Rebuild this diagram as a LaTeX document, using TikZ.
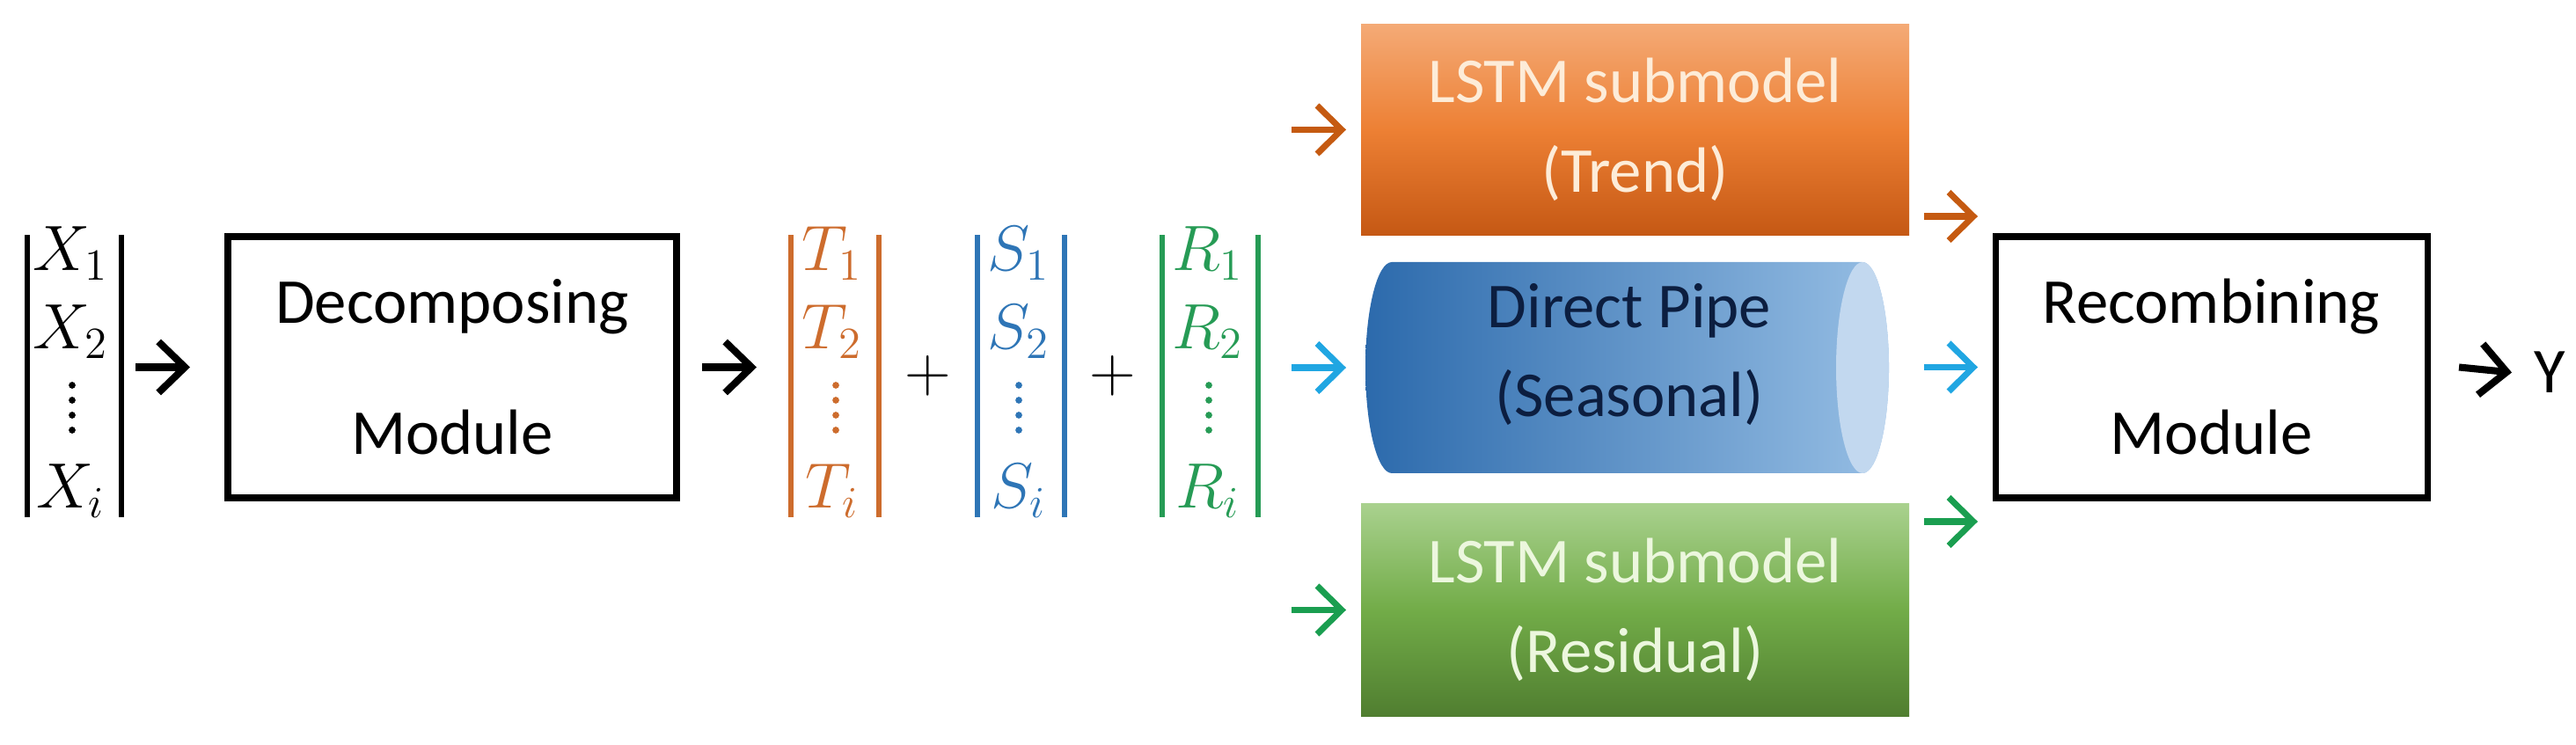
\documentclass[tikz,border=0pt]{standalone}
\usepackage{fontspec}
\setmainfont{Carlito}
\usetikzlibrary{arrows.meta}

\definecolor{tcol}{RGB}{205,108,45}
\definecolor{scol}{RGB}{46,117,182}
\definecolor{rcol}{RGB}{38,155,85}
\definecolor{tarrow}{RGB}{197,90,17}
\definecolor{sarrow}{RGB}{32,166,226}
\definecolor{rarrow}{RGB}{26,158,80}
\definecolor{trendtop}{RGB}{244,170,118}
\definecolor{trendmid}{RGB}{237,128,52}
\definecolor{trendbot}{RGB}{197,88,20}
\definecolor{residtop}{RGB}{169,209,142}
\definecolor{residmid}{RGB}{114,172,72}
\definecolor{residbot}{RGB}{80,126,48}
\definecolor{pipedark}{RGB}{44,106,172}
\definecolor{pipelight}{RGB}{150,190,228}
\definecolor{pipeface}{RGB}{194,216,239}
\definecolor{trendtext}{RGB}{253,236,216}
\definecolor{residtext}{RGB}{236,247,222}
\definecolor{pipetext}{RGB}{12,30,64}

\begin{document}
\begin{tikzpicture}[
	modbox/.style = {draw, line width = 2pt, outer sep = 0pt, minimum height = 2.97cm, align = center, font = \fontsize{20.7}{42.4}\selectfont},
	subbox/.style = {outer sep = 0pt, minimum width = 6.23cm, minimum height = 2.4cm, align = center, font = \fontsize{20.7}{29}\selectfont},
	entry/.style = {anchor = base, inner sep = 0pt, font = \fontsize{21}{25}\selectfont},
	vecbox/.style = {minimum height = 3.19cm, inner sep = 0pt},
	bar/.style = {line width = 1.8pt},
	arr/.style = {line width = 2.3pt, -{Straight Barb[length = 3mm, width = 5.8mm]}},
	carr/.style = {line width = 2pt, -{Straight Barb[length = 2.8mm, width = 5.5mm]}}
	]
	\useasboundingbox (0,0) rectangle (29.28,8.46);

	\node[vecbox, minimum width = 1.05cm] (xvec) at (0.845,4.185) {};
	\draw[bar] (xvec.north west) -- (xvec.south west);
	\draw[bar] (xvec.north east) -- (xvec.south east);
	\node[entry] (x1) at (0.80,5.38) {$X_1$};
	\node[entry] (x2) at (0.80,4.49) {$X_2$};
	\foreach \y in {4.08,3.91,3.74,3.57} \fill (0.82,\y) circle(1.1pt);
	\node[entry] (xi) at (0.80,2.68) {$X_i$};

	\node[modbox, minimum width = 5.10cm] (dec) at (5.14,4.285) {Decomposing\\Module};

	\node[vecbox, minimum width = 0.98cm] (tvec) at (9.49,4.185) {};
	\draw[bar, tcol] (tvec.north west) -- (tvec.south west);
	\draw[bar, tcol] (tvec.north east) -- (tvec.south east);
	\node[entry, tcol] (t1) at (9.46,5.38) {$T_1$};
	\node[entry, tcol] (t2) at (9.46,4.49) {$T_2$};
	\foreach \y in {4.08,3.91,3.74,3.57} \fill[tcol] (9.50,\y) circle(1.1pt);
	\node[entry, tcol] (ti) at (9.46,2.68) {$T_i$};

	\node[font = \fontsize{21}{25}\selectfont] (plus1) at (10.55,4.19) {$+$};

	\node[vecbox, minimum width = 0.97cm] (svec) at (11.605,4.185) {};
	\draw[bar, scol] (svec.north west) -- (svec.south west);
	\draw[bar, scol] (svec.north east) -- (svec.south east);
	\node[entry, scol] (s1) at (11.58,5.38) {$S_1$};
	\node[entry, scol] (s2) at (11.58,4.49) {$S_2$};
	\foreach \y in {4.08,3.91,3.74,3.57} \fill[scol] (11.58,\y) circle(1.1pt);
	\node[entry, scol] (si) at (11.58,2.68) {$S_i$};

	\node[font = \fontsize{21}{25}\selectfont] (plus2) at (12.65,4.19) {$+$};

	\node[vecbox, minimum width = 1.07cm] (rvec) at (13.755,4.185) {};
	\draw[bar, rcol] (rvec.north west) -- (rvec.south west);
	\draw[bar, rcol] (rvec.north east) -- (rvec.south east);
	\node[entry, rcol] (r1) at (13.73,5.38) {$R_1$};
	\node[entry, rcol] (r2) at (13.73,4.49) {$R_2$};
	\foreach \y in {4.08,3.91,3.74,3.57} \fill[rcol] (13.74,\y) circle(1.1pt);
	\node[entry, rcol] (ri) at (13.73,2.68) {$R_i$};

	\node[subbox, top color = trendtop, bottom color = trendbot, middle color = trendmid, text = trendtext] (trend) at (18.585,6.985) {LSTM submodel\\(Trend)};

	\shade[left color = pipedark, right color = pipelight] (15.82,5.48) -- (21.17,5.48) arc[start angle = 90, end angle = -90, x radius = 0.3, y radius = 1.2] -- (15.82,3.08) arc[start angle = 270, end angle = 90, x radius = 0.3, y radius = 1.2] -- cycle;
	\fill[pipeface] (21.17,4.28) ellipse (0.3 and 1.2);
	\node[minimum width = 5.95cm, minimum height = 2.4cm, outer sep = 0pt] (pipe) at (18.495,4.28) {};
	\node[subbox, minimum width = 0pt, minimum height = 0pt, text = pipetext] (pipetxt) at (18.52,4.43) {Direct Pipe\\(Seasonal)};

	\node[subbox, minimum height = 2.41cm, top color = residtop, bottom color = residbot, middle color = residmid, text = residtext] (resid) at (18.585,1.525) {LSTM submodel\\(Residual)};

	\node[modbox, minimum width = 4.91cm] (rec) at (25.135,4.285) {Recombining\\Module};
	\node[anchor = west, inner sep = 0pt, font = \fontsize{20.7}{25}\selectfont] (out) at (28.80,4.225) {Y};

	\draw[arr] ([xshift = -1.05cm]dec.west) -- ([xshift = -0.43cm]dec.west);
	\draw[arr] ([xshift = 0.29cm]dec.east) -- ([xshift = 0.91cm]dec.east);
	\draw[carr, tarrow] ([xshift = -0.79cm]trend.west) -- ([xshift = -0.17cm]trend.west);
	\draw[carr, sarrow] ([xshift = -0.84cm]pipe.west) -- ([xshift = -0.22cm]pipe.west);
	\draw[carr, rarrow] ([xshift = -0.79cm]resid.west) -- ([xshift = -0.17cm]resid.west);
	\draw[carr, tarrow] ([shift = {(-0.81,1.715)}]rec.west) -- ([shift = {(-0.20,1.715)}]rec.west);
	\draw[carr, sarrow] ([xshift = -0.81cm]rec.west) -- ([xshift = -0.20cm]rec.west);
	\draw[carr, rarrow] ([shift = {(-0.81,-1.755)}]rec.west) -- ([shift = {(-0.20,-1.755)}]rec.west);
	\draw[arr] ([xshift = 0.36cm]rec.east) -- ([xshift = -0.25cm]out.west);
\end{tikzpicture}
\end{document}
